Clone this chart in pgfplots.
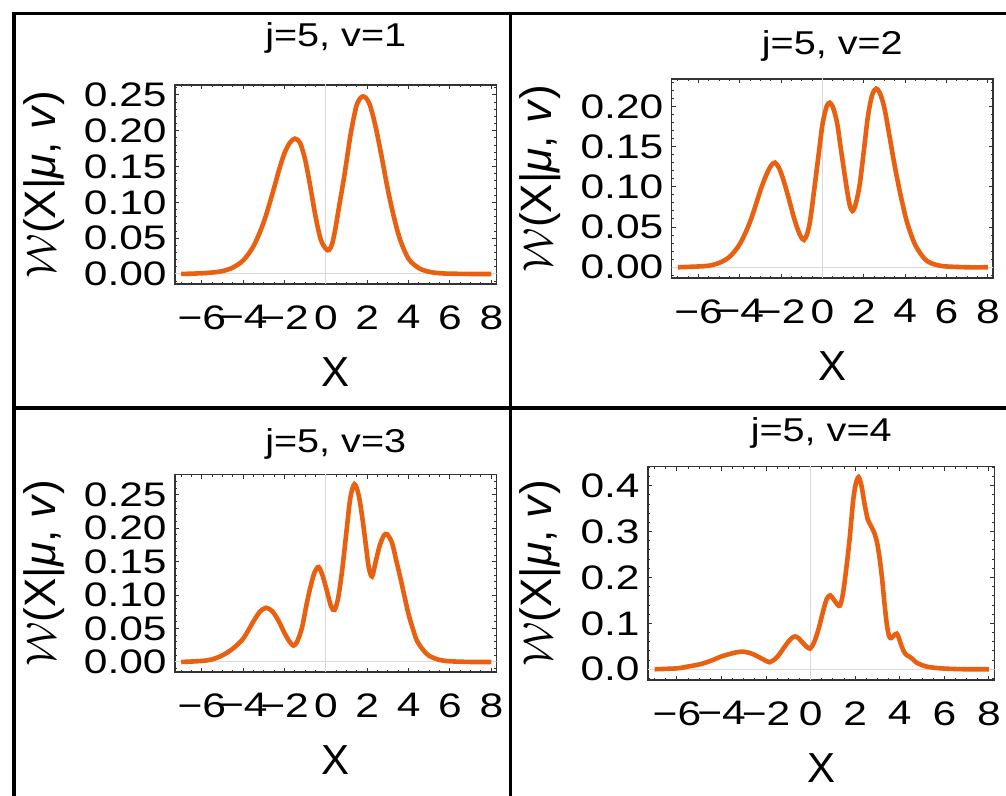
\documentclass[border=0pt]{standalone}
\usepackage{fontspec}
\setmainfont{Liberation Sans}
\usepackage{graphicx}
\usepackage{pgfplots}
\usepackage{pgfplotstable}
\pgfplotsset{compat=1.18}

\definecolor{wcurve}{RGB}{232,96,16}
\newcommand{\sx}[1]{\scalebox{1.25}[1]{#1}}
\newcommand{\ttl}[1]{\scalebox{1.2}[1]{#1}}
\newcommand{\ylab}{$\mathcal{W}$(X|\textit{μ}, \textit{v})}

% distributions, one table per panel
\pgfplotstableread{
x y
-7.0 0.0000
-6.5 0.0004
-6.0 0.0010
-5.5 0.0020
-5.0 0.0040
-4.5 0.0090
-4.0 0.0190
-3.5 0.0390
-3.0 0.0730
-2.5 0.1210
-2.25 0.1470
-2.0 0.1690
-1.75 0.1830
-1.5 0.1890
-1.25 0.1830
-1.0 0.1590
-0.75 0.1210
-0.5 0.0800
-0.25 0.0480
0.0 0.0350
0.15 0.0335
0.3 0.0420
0.45 0.0620
0.6 0.0880
0.9 0.1390
1.2 0.1960
1.5 0.2370
1.8 0.2480
2.1 0.2380
2.4 0.2060
2.7 0.1630
3.0 0.1170
3.3 0.0780
3.6 0.0470
4.0 0.0210
4.5 0.0080
5.0 0.0030
5.5 0.0010
6.0 0.0004
7.0 0.0000
8.0 0.0000
}\vone

\pgfplotstableread{
x y
-7.0 0.0000
-6.0 0.0010
-5.5 0.0020
-5.0 0.0055
-4.5 0.0130
-4.0 0.0290
-3.5 0.0570
-3.0 0.0960
-2.75 0.1130
-2.5 0.1260
-2.3 0.1300
-2.1 0.1230
-1.9 0.1090
-1.65 0.0870
-1.4 0.0630
-1.2 0.0470
-1.05 0.0380
-0.9 0.0340
-0.75 0.0410
-0.6 0.0580
-0.4 0.0970
-0.2 0.1380
0.0 0.1780
0.2 0.2000
0.35 0.2045
0.5 0.1990
0.7 0.1800
0.9 0.1450
1.1 0.1100
1.3 0.0790
1.45 0.0700
1.6 0.0780
1.8 0.1030
2.0 0.1450
2.2 0.1880
2.4 0.2140
2.6 0.2220
2.8 0.2150
3.0 0.1970
3.2 0.1690
3.5 0.1250
3.8 0.0870
4.1 0.0550
4.5 0.0270
5.0 0.0090
5.5 0.0030
6.0 0.0010
7.0 0.0000
8.0 0.0000
}\vtwo

\pgfplotstableread{
x y
-7.0 0.0000
-6.0 0.0015
-5.5 0.0040
-5.0 0.0100
-4.5 0.0200
-4.0 0.0350
-3.5 0.0610
-3.2 0.0750
-2.9 0.0810
-2.6 0.0760
-2.3 0.0620
-2.0 0.0430
-1.75 0.0300
-1.57 0.0245
-1.4 0.0300
-1.16 0.0510
-0.95 0.0840
-0.75 0.1120
-0.55 0.1340
-0.35 0.1420
-0.15 0.1280
0.05 0.1060
0.25 0.0830
0.42 0.0780
0.6 0.0970
0.8 0.1410
1.0 0.1970
1.18 0.2455
1.38 0.2660
1.58 0.2500
1.75 0.2180
1.91 0.1800
2.07 0.1420
2.23 0.1280
2.4 0.1490
2.6 0.1740
2.8 0.1890
2.96 0.1910
3.2 0.1780
3.4 0.1520
3.6 0.1260
3.8 0.0980
4.0 0.0710
4.2 0.0500
4.4 0.0320
4.7 0.0180
5.0 0.0090
5.5 0.0030
6.0 0.0010
7.0 0.0000
8.0 0.0000
}\vthree

\pgfplotstableread{
x y
-7.0 0.0000
-6.0 0.0020
-5.5 0.0060
-5.0 0.0105
-4.5 0.0180
-4.0 0.0280
-3.5 0.0350
-3.1 0.0385
-2.7 0.0350
-2.3 0.0260
-2.0 0.0180
-1.85 0.0153
-1.6 0.0220
-1.4 0.0330
-1.2 0.0470
-1.0 0.0600
-0.85 0.0680
-0.7 0.0715
-0.55 0.0680
-0.4 0.0600
-0.2 0.0500
-0.03 0.0450
0.15 0.0580
0.35 0.0870
0.55 0.1250
0.72 0.1530
0.88 0.1610
1.05 0.1510
1.2 0.1410
1.32 0.1390
1.45 0.1650
1.6 0.2200
1.75 0.2850
1.9 0.3650
2.02 0.4030
2.15 0.4190
2.28 0.4000
2.42 0.3600
2.56 0.3270
2.7 0.3130
2.85 0.2980
2.98 0.2760
3.1 0.2400
3.2 0.2000
3.31 0.1445
3.42 0.0970
3.52 0.0720
3.62 0.0680
3.74 0.0740
3.86 0.0775
3.96 0.0680
4.06 0.0530
4.18 0.0390
4.3 0.0310
4.45 0.0270
4.6 0.0210
4.75 0.0145
5.0 0.0090
5.2 0.0058
5.6 0.0030
6.0 0.0015
6.5 0.0005
7.0 0.0000
8.0 0.0000
}\vfour

\pgfplotsset{
  panel/.style={
    scale only axis, anchor=south west,
    xmin=-7.3, xmax=8.25,
    xtick={-6,-4,...,8},
    xticklabels={\sx{−6},\sx{−4},\sx{−2},\sx{0},\sx{2},\sx{4},\sx{6},\sx{8}},
    minor xtick={-7,-6.5,...,8},
    axis line style={black!80, line width=0.6pt},
    tick style={black!80, line width=0.5pt},
    major tick length=2.2pt, minor tick length=1.1pt,
    tick align=inside,
    xticklabel style={font=\fontsize{17}{20}\selectfont, inner xsep=0pt, inner ysep=10.5pt},
    yticklabel style={font=\fontsize{17}{20}\selectfont, inner ysep=0pt, inner xsep=4pt},
    xlabel={X},
    xlabel style={font=\fontsize{21}{25}\selectfont, inner sep=0pt, at={(ticklabel cs:0.5,3.5pt)}, anchor=north},
    ylabel={\ylab},
    ylabel style={font=\fontsize{22}{26}\selectfont, inner sep=0pt, at={(ticklabel cs:0.5,5.5pt)}},
    title style={font=\fontsize{16.5}{20}\selectfont, at={(0.5,1)}, anchor=base},
  },
  wline/.style={color=wcurve, line width=2.3pt, smooth},
  zline/.style={gray!30, line width=0.5pt, forget plot},
}

\begin{document}
\begin{tikzpicture}
\useasboundingbox (0,0) rectangle (503pt,398pt);

% cell borders
\draw[line width=1.6pt] (6.2pt,391.35pt) -- (503pt,391.35pt);
\draw[line width=1.6pt] (7pt,392.15pt) -- (7pt,0pt);
\draw[line width=1.6pt] (255.25pt,392pt) -- (255.25pt,0pt);
\draw[line width=1.6pt] (7pt,194pt) -- (503pt,194pt);

% v=1
\begin{axis}[panel, at={(87.5pt,256pt)}, width=160.75pt, height=99.5pt,
    ymin=-0.014, ymax=0.264,
    ytick={0,0.05,0.1,0.15,0.2,0.25},
    yticklabels={\sx{0.00},\sx{0.05},\sx{0.10},\sx{0.15},\sx{0.20},\sx{0.25}},
    minor ytick={-0.01,0,...,0.26},
    title={\ttl{j=5, v=1}}, title style={yshift=13pt}]
\addplot[zline] coordinates {(0,-1) (0,1)};
\addplot[zline] coordinates {(-10,0) (10,0)};
\addplot[wline] table {\vone};
\end{axis}

% v=2
\begin{axis}[panel, at={(335.85pt,259pt)}, width=160.65pt, height=99.5pt,
    ymin=-0.0133, ymax=0.234,
    ytick={0,0.05,0.1,0.15,0.2},
    yticklabels={\sx{0.00},\sx{0.05},\sx{0.10},\sx{0.15},\sx{0.20}},
    minor ytick={-0.01,0,...,0.23},
    title={\ttl{j=5, v=2}}, title style={yshift=6.2pt}]
\addplot[zline] coordinates {(0,-1) (0,1)};
\addplot[zline] coordinates {(-10,0) (10,0)};
\addplot[wline] table {\vtwo};
\end{axis}

% v=3
\begin{axis}[panel, at={(87.5pt,62pt)}, width=160.75pt, height=98.75pt,
    ymin=-0.015, ymax=0.2805,
    ytick={0,0.05,0.1,0.15,0.2,0.25},
    yticklabels={\sx{0.00},\sx{0.05},\sx{0.10},\sx{0.15},\sx{0.20},\sx{0.25}},
    minor ytick={-0.01,0,...,0.28},
    title={\ttl{j=5, v=3}}, title style={yshift=4.75pt}]
\addplot[zline] coordinates {(0,-1) (0,1)};
\addplot[zline] coordinates {(-10,0) (10,0)};
\addplot[wline] table {\vthree};
\end{axis}

% v=4
\begin{axis}[panel, at={(324pt,58pt)}, width=173.25pt, height=106.75pt,
    ymin=-0.0234, ymax=0.442,
    ytick={0,0.1,0.2,0.3,0.4},
    yticklabels={\sx{0.0},\sx{0.1},\sx{0.2},\sx{0.3},\sx{0.4}},
    minor ytick={-0.02,0,...,0.44},
    title={\ttl{j=5, v=4}}, title style={yshift=6.6pt}]
\addplot[zline] coordinates {(0,-1) (0,1)};
\addplot[zline] coordinates {(-10,0) (10,0)};
\addplot[wline] table {\vfour};
\end{axis}
\end{tikzpicture}
\end{document}
